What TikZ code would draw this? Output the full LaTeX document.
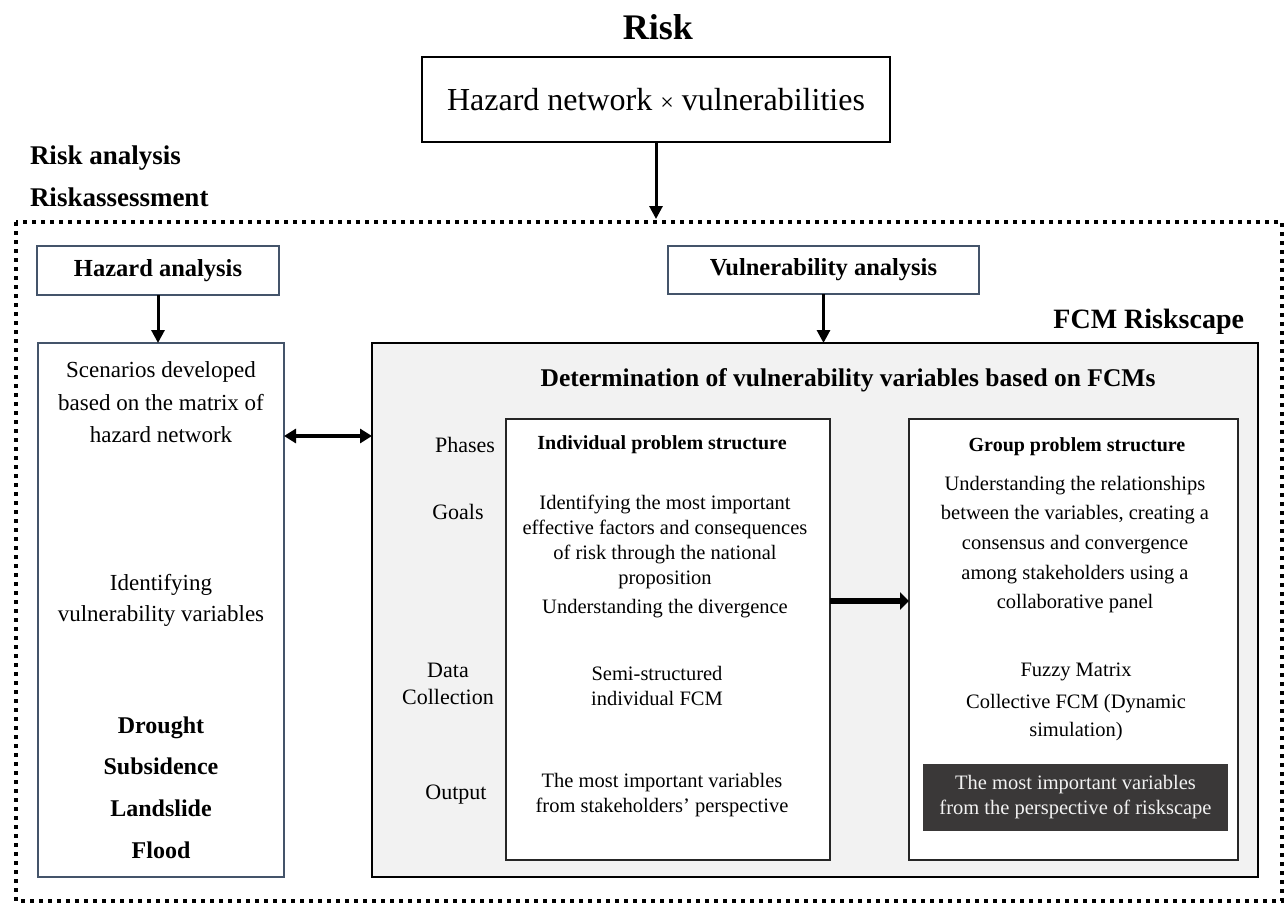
\documentclass[tikz,border=0pt]{standalone}
\usepackage{fontspec}
\setmainfont{Liberation Serif}
\usetikzlibrary{arrows.meta}

\definecolor{slate}{HTML}{44546A}
\definecolor{panelgrey}{HTML}{F2F2F2}
\definecolor{darkpanel}{HTML}{3A3838}

\tikzset{
  every node/.style={inner sep=0pt, outer sep=0pt},
  fs/.style 2 args={font=\fontsize{#1}{#2}\selectfont},
  bfs/.style 2 args={font=\fontsize{#1}{#2}\selectfont\bfseries},
  blockbox/.style={anchor=north west, align=center},
  plainframe/.style={blockbox, draw=black, line width=2pt, fill=white},
  slatebox/.style={blockbox, draw=slate, line width=1.3pt, fill=white},
  phasebox/.style={blockbox, draw=black!85, line width=1.6pt, fill=white},
  greypanel/.style={blockbox, draw=black, line width=2.2pt, fill=panelgrey},
  outputbox/.style={blockbox, fill=darkpanel, text=panelgrey},
  dotframe/.style={line width=3.6pt, dash pattern=on 3.8pt off 5.2pt},
  flow/.style={line width=3pt, -{Triangle[length=13pt,width=13pt]}},
  bothflow/.style={line width=4pt, {Triangle[length=12pt,width=14pt]}-{Triangle[length=12pt,width=14pt]}},
  thickflow/.style={line width=5.5pt, -{Triangle[length=9pt,width=17pt]}},
}

\begin{document}
\begin{tikzpicture}[x=1pt, y=-1pt]
  \useasboundingbox (0,0) rectangle (1284,904);

  % outer risk-assessment frame
  \draw[dotframe] (16,222) rectangle (1282,901);

  % headings
  \node[bfs={36}{40}] (risk) at (658,27) {Risk};
  \node[bfs={27}{30}, anchor=west] (ranalysis) at (30,158) {Risk analysis};
  \node[bfs={27}{30}, anchor=west] (rassess) at (30,197) {Riskassessment};
  \node[bfs={28}{32}, anchor=east] (fcmrisk) at (1244,322) {FCM Riskscape};

  % top formula box
  \node[plainframe, fs={32}{36}, minimum width=468pt, minimum height=85pt] (top) at (422,57)
    {Hazard network {\fontsize{24}{24}\selectfont ×} vulnerabilities};
  \coordinate (frametop) at (656,219);

  % analysis boxes
  \node[slatebox, bfs={24.5}{28}, minimum width=242pt, minimum height=49pt] (haz) at (37,246) {Hazard analysis};
  \node[slatebox, bfs={24.5}{28}, minimum width=311pt, minimum height=48pt] (vul) at (668,246) {Vulnerability analysis};

  % hazard scenario column
  \node[slatebox, minimum width=246pt, minimum height=534pt] (left) at (38,343) {};
  \node[fs={23}{32.5}, align=center] (scen) at (161,402.5)
    {Scenarios developed\\based on the matrix of\\hazard network};
  \node[fs={23}{31}, align=center] (ident) at (161,600.5)
    {Identifying\\vulnerability variables};
  \node[bfs={24}{41.7}, align=center] (hazlist) at (161,787.5)
    {Drought\\Subsidence\\Landslide\\Flood};

  % FCM panel
  \node[greypanel, minimum width=886pt, minimum height=534pt] (grey) at (372,343) {};
  \node[bfs={25.5}{30}] (determ) at (848,380) {Determination of vulnerability variables based on FCMs};

  % phase labels
  \node[fs={22}{27}, anchor=east] (lphases) at (495,445) {Phases};
  \node[fs={22}{27}] (lgoals) at (458,512) {Goals};
  \node[fs={22}{27}, align=center] (ldata) at (448,683.5) {Data\\Collection};
  \node[fs={22}{27}] (loutput) at (456,795) {Output};

  % individual phase
  \node[phasebox, minimum width=324pt, minimum height=441pt] (ind) at (506,419) {};
  \node[bfs={20}{24}] (indtitle) at (662,445) {Individual problem structure};
  \node[fs={20.5}{24.7}, align=center] (indgoal) at (665,542)
    {Identifying the most important\\effective factors and consequences\\of risk through the national\\proposition};
  \node[fs={20.5}{24.7}] (inddiv) at (665,609) {Understanding the divergence};
  \node[fs={20.5}{25}, align=center] (inddata) at (657,685.5) {Semi-structured\\individual FCM};
  \node[fs={20.5}{25}, align=center] (indout) at (662,795.5)
    {The most important variables\\from stakeholders’ perspective};

  % group phase
  \node[phasebox, minimum width=329pt, minimum height=441pt] (grp) at (909,419) {};
  \node[bfs={20}{24}] (grptitle) at (1077,447) {Group problem structure};
  \node[fs={20.5}{29.7}, align=center] (grpgoal) at (1075,544.5)
    {Understanding the relationships\\between the variables, creating a\\consensus and convergence\\among stakeholders using a\\collaborative panel};
  \node[fs={20.5}{28}] (grpfuzzy) at (1076,672) {Fuzzy Matrix};
  \node[fs={20.5}{28}, align=center] (grpcoll) at (1076,718) {Collective FCM (Dynamic\\simulation)};
  \node[outputbox, fs={20.5}{25}, minimum width=305pt, minimum height=67pt] (grpout) at (923,764)
    {The most important variables\\from the perspective of riskscape};

  % connectors
  \coordinate (dbl) at (0,436);
  \coordinate (hor) at (0,601);
  \draw[flow] (top.south) -- (frametop);
  \draw[flow] (haz.south) -- (haz.south |- left.north);
  \draw[flow] (vul.south) -- (vul.south |- grey.north);
  \draw[bothflow] (left.east |- dbl) -- (grey.west |- dbl);
  \draw[thickflow] (ind.east |- hor) -- (grp.west |- hor);
\end{tikzpicture}
\end{document}
